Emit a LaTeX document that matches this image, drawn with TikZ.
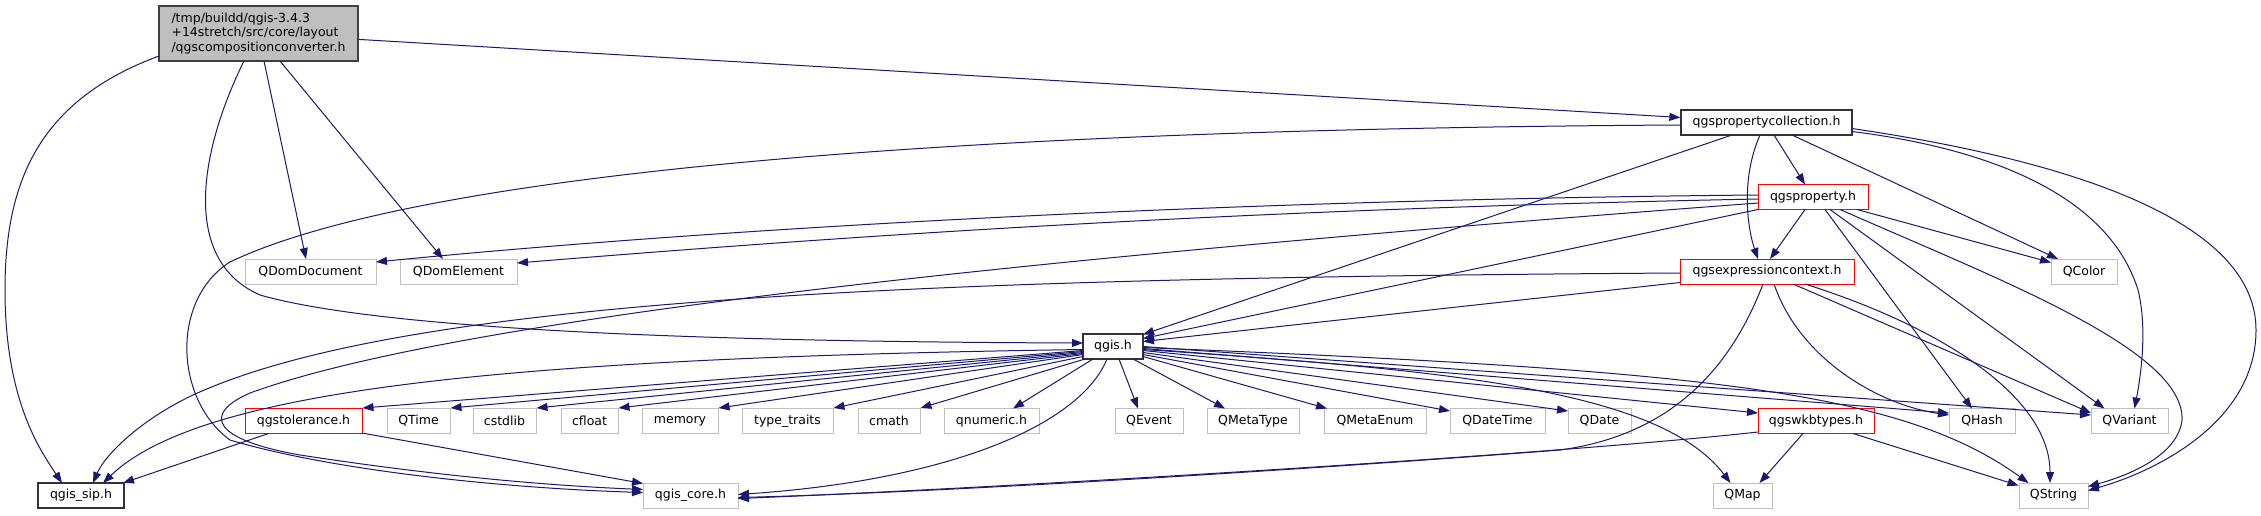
\documentclass[tikz,border=0pt]{standalone}
\usepackage{fontspec}
\setmainfont{DejaVu Sans}
\usetikzlibrary{arrows.meta,calc}
\definecolor{edgec}{HTML}{191970}
\definecolor{gb}{HTML}{BFBFBF}
\definecolor{mainfill}{HTML}{BFBFBF}
\definecolor{rb}{HTML}{FF0000}
\begin{document}
\begin{tikzpicture}[x=1pt,y=-1pt,
  box/.style={rectangle, inner sep=0pt, minimum height=25pt, font=\fontsize{12.5}{14.7}\selectfont, line width=1pt, fill=white},
  gbox/.style={box, draw=gb},
  rbox/.style={box, draw=rb},
  kbox/.style={box, draw=black!80, line width=1.3pt},
  dep/.style={draw=edgec, line width=1pt, -{Triangle[length=11pt,width=8pt]}}
]
\fill[white] (0,0) rectangle (2261,515);
\useasboundingbox (0,0) rectangle (2261,515);

% nodes
\node[box, draw=black!75, fill=mainfill, line width=1.3pt, minimum width=199pt, minimum height=55pt, align=left] (main) at (258.5,33.5) {/tmp/buildd/qgis-3.4.3\\+14stretch/src/core/layout\\/qgscompositionconverter.h};
\node[kbox, minimum width=171pt] (pc) at (1766.5,122.5) {qgspropertycollection.h};
\node[rbox, minimum width=110pt] (prop) at (1813,197) {qgsproperty.h};
\node[rbox, minimum width=174pt] (expr) at (1767,271.5) {qgsexpressioncontext.h};
\node[gbox, minimum width=66pt] (qcolor) at (2084,271.5) {QColor};
\node[gbox, minimum width=131pt] (qdd) at (310.5,271.5) {QDomDocument};
\node[gbox, minimum width=117pt] (qde) at (458.5,271.5) {QDomElement};
\node[kbox, minimum width=60pt] (qgis) at (1113,346.5) {qgis.h};
\node[rbox, minimum width=117pt] (tol) at (303.5,421) {qgstolerance.h};
\node[gbox, minimum width=63pt] (qtime) at (418.5,421) {QTime};
\node[gbox, minimum width=63pt] (cstdlib) at (504.5,421) {cstdlib};
\node[gbox, minimum width=57pt] (cfloat) at (589.5,421) {cfloat};
\node[gbox, minimum width=76pt] (memory) at (680,421) {memory};
\node[gbox, minimum width=91pt] (typetr) at (787.5,421) {type\_traits};
\node[gbox, minimum width=62pt] (cmath) at (889,421) {cmath};
\node[gbox, minimum width=95pt] (qnum) at (991.5,421) {qnumeric.h};
\node[gbox, minimum width=68pt] (qevent) at (1149,421) {QEvent};
\node[gbox, minimum width=92pt] (qmt) at (1253,421) {QMetaType};
\node[gbox, minimum width=102pt] (qme) at (1375,421) {QMetaEnum};
\node[gbox, minimum width=95pt] (qdt) at (1497.5,421) {QDateTime};
\node[gbox, minimum width=63pt] (qdate) at (1599.5,421) {QDate};
\node[rbox, minimum width=116pt] (wkb) at (1816,421) {qgswkbtypes.h};
\node[gbox, minimum width=66pt] (qhash) at (1982,421) {QHash};
\node[gbox, minimum width=77pt] (qvar) at (2129.5,421) {QVariant};
\node[kbox, minimum width=86pt] (sip) at (81,495.5) {qgis\_sip.h};
\node[gbox, minimum width=95pt] (core) at (690.5,495.5) {qgis\_core.h};
\node[gbox, minimum width=59pt] (qmap) at (1742.5,495.5) {QMap};
\node[gbox, minimum width=69pt] (qstr) at (2053.5,495.5) {QString};

% edges from main
\draw[dep] (main) -- (pc);
\draw[dep] ($(main)+(-99.5,22.5)$) .. controls (40,100) and (5,180) .. (5,290) .. controls (5,400) and (40,450) .. ($(sip)+(-19,-12.5)$);
\draw[dep] ($(main)+(5.5,27.5)$) -- ($(qdd)+(-4.5,-12.5)$);
\draw[dep] ($(main)+(21.5,27.5)$) -- ($(qde)+(-15.5,-12.5)$);
\draw[dep] ($(main)+(-14.5,27.5)$) .. controls (200,150) and (180,260) .. (260,295) .. controls (400,335) and (800,342) .. ($(qgis)+(-30,-3.5)$);

% edges from qgspropertycollection.h
\draw[dep] ($(pc)+(-85.5,2.5)$) .. controls (800,130) and (380,190) .. (230,262) .. controls (170,300) and (175,400) .. (230,440) .. controls (330,470) and (500,488) .. ($(core)+(-47.5,-3)$);
\draw[dep] ($(pc)+(-34.5,12.5)$) -- ($(qgis)+(30,-12)$);
\draw[dep] ($(pc)+(-6.5,12.5)$) .. controls (1740,180) and (1748,230) .. ($(expr)+(-9,-12.5)$);
\draw[dep] ($(pc)+(7.5,12.5)$) -- ($(prop)+(-8,-12.5)$);
\draw[dep] ($(pc)+(25.5,12.5)$) -- ($(qcolor)+(-26,-12.5)$);
\draw[dep] ($(pc)+(85.5,9)$) .. controls (2000,150) and (2110,200) .. (2138,290) .. controls (2148,330) and (2140,380) .. ($(qvar)+(5,-12.5)$);
\draw[dep] ($(pc)+(85.5,6)$) .. controls (2100,165) and (2256,230) .. (2256,330) .. controls (2256,420) and (2160,470) .. ($(qstr)+(34.5,-5)$);

% edges from qgsproperty.h
\draw[dep] ($(prop)+(-55,-2)$) .. controls (1200,200) and (700,230) .. ($(qdd)+(65.5,-9.5)$);
\draw[dep] ($(prop)+(-55,2)$) .. controls (1200,210) and (800,240) .. ($(qde)+(58.5,-8.5)$);
\draw[dep] ($(prop)+(-55,6)$) .. controls (1000,260) and (450,320) .. (250,393) .. controls (200,415) and (215,440) .. (300,455) .. controls (450,478) and (560,486) .. ($(core)+(-47.5,-6)$);
\draw[dep] ($(prop)+(-8,12.5)$) -- ($(expr)+(3,-12.5)$);
\draw[dep] ($(prop)+(-55,12.5)$) -- ($(qgis)+(30,-8)$);
\draw[dep] ($(prop)+(44,12.5)$) -- ($(qcolor)+(-33,-9)$);
\draw[dep] ($(prop)+(12,12.5)$) -- ($(qhash)+(-10,-12.5)$);
\draw[dep] ($(prop)+(17,12.5)$) -- ($(qvar)+(-25,-12.5)$);
\draw[dep] ($(prop)+(27,12.5)$) .. controls (2000,280) and (2185,350) .. (2182,420) .. controls (2178,455) and (2130,475) .. ($(qstr)+(34.5,-9)$);

% edges from qgsexpressioncontext.h
\draw[dep] ($(expr)+(-87,1.5)$) .. controls (900,278) and (400,300) .. (193,395) .. controls (140,420) and (105,455) .. ($(sip)+(12,-12.5)$);
\draw[dep] ($(expr)+(-87,11)$) -- ($(qgis)+(30,-5)$);
\draw[dep] ($(expr)+(-4,12.5)$) .. controls (1730,370) and (1670,435) .. (1560,450) .. controls (1300,470) and (950,492) .. ($(core)+(47.5,2)$);
\draw[dep] ($(expr)+(7,12.5)$) .. controls (1800,360) and (1880,405) .. ($(qhash)+(-33,-6)$);
\draw[dep] ($(expr)+(26,12.5)$) -- ($(qvar)+(-38.5,-8)$);
\draw[dep] ($(expr)+(38,12.5)$) .. controls (1950,330) and (2050,400) .. ($(qstr)+(-3.5,-12.5)$);

% edges from qgis.h
\draw[dep] ($(qgis)+(-30,4)$) -- (tol.north east);
\draw[dep] ($(qgis)+(-30,5)$) -- (qtime.north east);
\draw[dep] ($(qgis)+(-30,6)$) -- (cstdlib.north east);
\draw[dep] ($(qgis)+(-30,7)$) -- (cfloat.north east);
\draw[dep] ($(qgis)+(-30,8)$) -- (memory.north east);
\draw[dep] ($(qgis)+(-30,10)$) -- (typetr.north east);
\draw[dep] ($(qgis)+(-28,12.5)$) -- (cmath.north east);
\draw[dep] ($(qgis)+(-20,12.5)$) -- ($(qnum)+(21.5,-12.5)$);
\draw[dep] ($(qgis)+(6,12.5)$) -- ($(qevent)+(-11,-12.5)$);
\draw[dep] ($(qgis)+(20,12.5)$) -- ($(qmt)+(-28,-12.5)$);
\draw[dep] ($(qgis)+(30,10)$) -- ($(qme)+(-48,-12.5)$);
\draw[dep] ($(qgis)+(30,8)$) -- ($(qdt)+(-47.5,-10)$);
\draw[dep] ($(qgis)+(30,6)$) -- ($(qdate)+(-31.5,-10)$);
\draw[dep] ($(qgis)+(30,4)$) -- ($(wkb)+(-58,-8)$);
\draw[dep] ($(qgis)+(30,2)$) -- ($(qhash)+(-33,-8)$);
\draw[dep] ($(qgis)+(30,0)$) -- ($(qvar)+(-38.5,-6)$);
\draw[dep] ($(qgis)+(30,3)$) .. controls (1450,370) and (1660,390) .. ($(qmap)+(-12,-12.5)$);
\draw[dep] ($(qgis)+(30,1)$) .. controls (1700,370) and (1900,390) .. ($(qstr)+(-25,-12.5)$);
\draw[dep] ($(qgis)+(-6,12.5)$) .. controls (1080,425) and (950,480) .. ($(core)+(47.5,-1)$);
\draw[dep] ($(qgis)+(-30,3)$) .. controls (500,358) and (200,390) .. ($(sip)+(22,-12.5)$);

% edges from qgstolerance.h
\draw[dep] ($(tol)+(-35,12.5)$) -- ($(sip)+(42,-12.5)$);
\draw[dep] ($(tol)+(58.5,12)$) -- ($(core)+(-47.5,-12)$);

% edges from qgswkbtypes.h
\draw[dep] ($(wkb)+(-58,11)$) .. controls (1550,455) and (1000,488) .. ($(core)+(47.5,3)$);
\draw[dep] ($(wkb)+(-13,12.5)$) -- ($(qmap)+(17,-12.5)$);
\draw[dep] ($(wkb)+(37,12.5)$) -- ($(qstr)+(-35,-10)$);
\end{tikzpicture}
\end{document}
